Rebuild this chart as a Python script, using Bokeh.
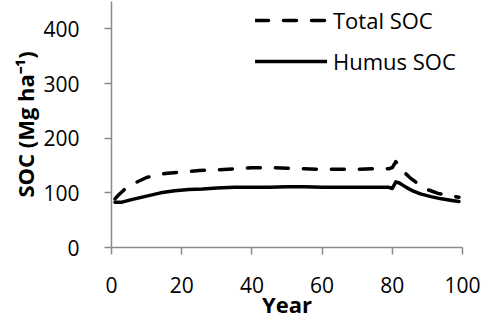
from bokeh.plotting import figure
from bokeh.models import Range1d, FixedTicker, Legend, LegendItem
from bokeh.embed import file_html
from bokeh.resources import INLINE

# Simulated soil organic carbon stocks over a 100-year rotation
years_total = [1, 2, 4, 7, 10, 13, 16, 20, 25, 30, 35, 40, 45, 50, 55, 60,
               65, 70, 75, 79, 80, 81, 82, 83, 85, 87, 90, 93, 96, 99]
total_soc = [89, 96, 108, 119, 128, 133, 136, 138, 141, 142, 144, 146, 146,
             145, 144, 143, 143, 143, 144, 144, 146, 157, 150, 140, 128, 118,
             106, 99, 95, 92]

years_humus = [1, 3, 6, 10, 14, 18, 22, 26, 30, 35, 40, 45, 50, 55, 60, 65,
               70, 75, 79, 80, 81, 82, 84, 86, 88, 91, 94, 97, 99]
humus_soc = [83, 83, 88, 94, 100, 104, 106, 107, 109, 110, 110, 110, 111,
             111, 110, 110, 110, 110, 110, 108, 120, 118, 110, 103, 98, 93,
             89, 86, 84]

x_ticks = [0, 20, 40, 60, 80, 100]
y_ticks = [0, 100, 200, 300, 400]

FONT = "Open Sans"
AXIS_GREY = "#8a8a8a"

p = figure(width=483, height=322, output_backend="svg", toolbar_location=None,
           x_range=Range1d(0, 100), y_range=Range1d(0, 450),
           min_border_left=111, min_border_right=21, min_border_top=1,
           min_border_bottom=75)

p.outline_line_color = None
p.grid.grid_line_color = None
p.background_fill_color = "white"
p.border_fill_color = "white"

total_r = p.line(years_total, total_soc, line_color="black", line_width=3.5,
                 line_dash="13 15", line_cap="round", line_join="round")
humus_r = p.line(years_humus, humus_soc, line_color="black", line_width=3.5,
                 line_cap="round", line_join="round")

p.xaxis.ticker = FixedTicker(ticks=x_ticks)
p.yaxis.ticker = FixedTicker(ticks=y_ticks)

for ax in (p.xaxis, p.yaxis):
    ax.axis_line_color = AXIS_GREY
    ax.axis_line_width = 1.5
    ax.major_tick_line_color = AXIS_GREY
    ax.major_tick_line_width = 1.5
    ax.major_tick_out = 7
    ax.major_tick_in = 0
    ax.minor_tick_line_color = None
    ax.major_label_text_font = FONT
    ax.major_label_text_font_size = "21px"
    ax.major_label_text_color = "black"
    ax.axis_label_text_font = FONT
    ax.axis_label_text_font_size = "22px"
    ax.axis_label_text_font_style = "bold"
    ax.axis_label_text_color = "black"

p.xaxis.major_label_standoff = 22
p.yaxis.major_label_standoff = 25
p.xaxis.axis_label = "Year"
p.xaxis.axis_label_standoff = -7
p.yaxis.axis_label = "SOC (Mg ha\u207b\u00b9)"
p.yaxis.axis_label_standoff = 0

legend = Legend(items=[LegendItem(label="Total SOC", renderers=[total_r]),
                       LegendItem(label="Humus SOC", renderers=[humus_r])],
                location=(144, 171), margin=0, padding=0,
                glyph_width=72, glyph_height=30, label_height=30,
                spacing=11, label_standoff=6,
                label_text_font=FONT, label_text_font_size="22px",
                label_text_color="black",
                border_line_color=None, background_fill_alpha=0)
p.add_layout(legend)

open("out.html", "w").write(file_html(p, INLINE))
